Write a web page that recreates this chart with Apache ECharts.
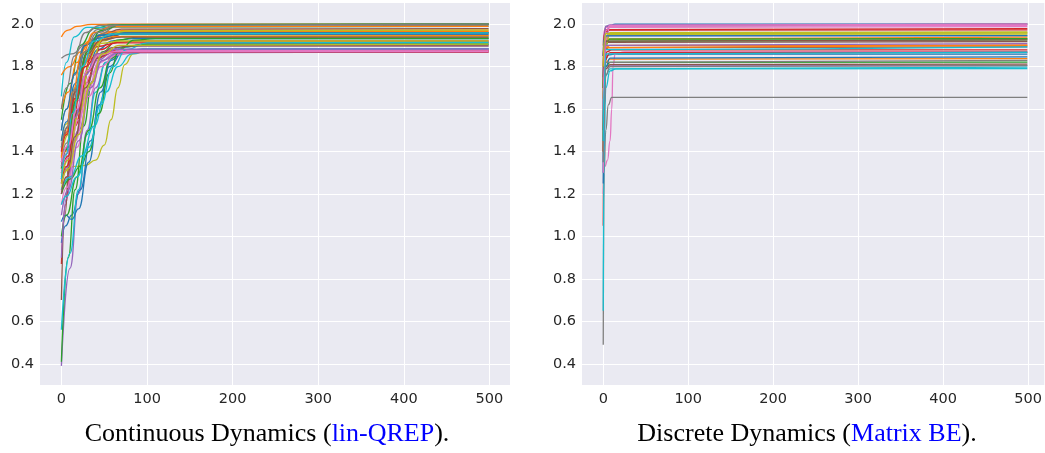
<!DOCTYPE html>
<html>
<head>
<meta charset="utf-8">
<script src="https://cdn.jsdelivr.net/npm/echarts@6/dist/echarts.min.js"></script>
<style>
  html, body { margin: 0; padding: 0; background: #fff; }
  #main { width: 1045px; height: 453px; }
</style>
</head>
<body>
<div id="main"></div>
<script>
// tick labels
var xTicks = [0, 100, 200, 300, 400, 500];
var yTicks = [0.4, 0.6, 0.8, 1.0, 1.2, 1.4, 1.6, 1.8, 2.0];

// left panel: continuous dynamics (lin-QREP), one run per line, [step, value]
var contRuns = [
  [[0,1.35],[8,1.42],[18,1.58],[30,1.78],[42,1.88],[60,1.922],[85,1.932],[499,1.932]],
  [[0,1.94],[8,1.972],[18,1.99],[35,1.999],[60,2.0],[499,2.0]],
  [[0,1.55],[10,1.72],[22,1.9],[38,1.98],[60,1.998],[499,2.0]],
  [[0,0.87],[5,1.15],[12,1.45],[22,1.7],[35,1.84],[55,1.875],[80,1.879],[499,1.879]],
  [[0,0.39],[10,0.85],[20,1.2],[30,1.5],[40,1.7],[52,1.82],[70,1.87],[95,1.876],[499,1.876]],
  [[0,0.7],[4,1.1],[10,1.42],[20,1.72],[32,1.88],[50,1.94],[75,1.953],[499,1.953]],
  [[0,1.45],[8,1.5],[20,1.64],[32,1.78],[45,1.85],[65,1.872],[499,1.874]],
  [[0,1.84],[12,1.86],[30,1.91],[50,1.948],[75,1.96],[499,1.962]],
  [[0,1.22],[6,1.31],[15,1.33],[28,1.335],[40,1.36],[50,1.43],[58,1.55],[66,1.7],[74,1.81],[84,1.86],[100,1.874],[499,1.876]],
  [[0,1.66],[6,1.82],[15,1.94],[30,1.985],[499,1.99]],

  [[0,0.97],[5,1.05],[12,1.1],[22,1.22],[34,1.45],[46,1.68],[58,1.83],[75,1.895],[100,1.906],[499,1.906]],
  [[0,1.76],[10,1.8],[22,1.87],[36,1.93],[55,1.965],[80,1.972],[499,1.972]],
  [[0,0.41],[8,0.9],[16,1.22],[26,1.52],[36,1.73],[48,1.87],[65,1.925],[90,1.939],[499,1.939]],
  [[0,1.3],[8,1.38],[20,1.58],[32,1.78],[45,1.88],[65,1.915],[90,1.921],[499,1.921]],
  [[0,1.25],[8,1.33],[20,1.5],[34,1.72],[48,1.85],[68,1.89],[95,1.898],[499,1.898]],
  [[0,1.42],[8,1.52],[18,1.7],[30,1.86],[46,1.95],[70,1.977],[499,1.979]],
  [[0,1.2],[6,1.28],[16,1.45],[30,1.68],[44,1.82],[62,1.862],[85,1.87],[499,1.87]],
  [[0,1.5],[6,1.6],[15,1.76],[27,1.9],[42,1.975],[65,1.998],[499,2.0]],
  [[0,1.38],[8,1.48],[18,1.66],[30,1.83],[46,1.92],[70,1.943],[499,1.946]],
  [[0,0.56],[10,0.92],[20,1.22],[30,1.48],[40,1.68],[52,1.82],[70,1.89],[95,1.906],[499,1.906]],

  [[0,1.07],[5,1.1],[12,1.08],[20,1.13],[32,1.35],[44,1.62],[56,1.8],[72,1.87],[95,1.884],[499,1.884]],
  [[0,1.6],[8,1.68],[18,1.82],[32,1.92],[50,1.958],[75,1.965],[499,1.965]],
  [[0,1.0],[6,1.1],[18,1.28],[32,1.5],[45,1.7],[58,1.84],[75,1.895],[100,1.906],[499,1.906]],
  [[0,1.33],[6,1.42],[16,1.62],[28,1.82],[42,1.895],[65,1.912],[499,1.914]],
  [[0,0.9],[6,1.18],[15,1.45],[28,1.7],[42,1.83],[60,1.868],[85,1.874],[499,1.874]],
  [[0,1.27],[8,1.37],[20,1.6],[34,1.82],[50,1.93],[75,1.958],[499,1.96]],
  [[0,1.15],[6,1.23],[18,1.42],[32,1.66],[46,1.8],[64,1.855],[90,1.868],[499,1.868]],
  [[0,1.35],[6,1.44],[16,1.63],[28,1.83],[44,1.95],[65,1.99],[499,1.995]],
  [[0,1.45],[6,1.53],[16,1.7],[30,1.86],[46,1.91],[70,1.921],[499,1.921]],
  [[0,1.22],[10,1.28],[24,1.38],[38,1.52],[52,1.68],[66,1.8],[82,1.86],[105,1.882],[499,1.884]],

  [[0,1.5],[6,1.6],[16,1.77],[28,1.9],[45,1.948],[70,1.959],[499,1.959]],
  [[0,1.32],[5,1.4],[14,1.6],[25,1.8],[38,1.91],[58,1.942],[499,1.946]],
  [[0,1.2],[10,1.27],[22,1.33],[32,1.4],[44,1.58],[56,1.77],[68,1.88],[85,1.925],[110,1.932],[499,1.932]],
  [[0,1.25],[6,1.33],[16,1.52],[28,1.72],[42,1.84],[60,1.87],[499,1.874]],
  [[0,1.1],[8,1.22],[20,1.45],[34,1.7],[48,1.83],[66,1.865],[499,1.87]],
  [[0,1.4],[6,1.49],[16,1.68],[30,1.86],[46,1.925],[70,1.939],[499,1.939]],
  [[0,1.3],[8,1.37],[20,1.55],[34,1.76],[48,1.86],[68,1.876],[499,1.878]],
  [[0,1.6],[6,1.7],[15,1.85],[28,1.96],[45,1.995],[499,2.0]],
  [[0,1.28],[8,1.36],[20,1.58],[34,1.82],[50,1.94],[75,1.968],[499,1.972]],
  [[0,1.15],[6,1.19],[18,1.28],[32,1.42],[46,1.62],[60,1.8],[76,1.88],[100,1.912],[499,1.914]],

  [[0,1.45],[6,1.54],[16,1.72],[28,1.87],[44,1.935],[68,1.953],[499,1.953]],
  [[0,1.37],[5,1.48],[13,1.68],[24,1.86],[38,1.96],[60,1.988],[499,1.99]],
  [[0,1.32],[6,1.41],[17,1.64],[30,1.87],[46,1.97],[70,1.998],[499,2.0]],
  [[0,1.4],[6,1.48],[16,1.65],[28,1.8],[42,1.86],[60,1.87],[499,1.87]],
  [[0,1.33],[6,1.39],[16,1.56],[28,1.76],[42,1.86],[62,1.882],[499,1.884]],
  [[0,1.2],[6,1.28],[16,1.47],[28,1.7],[42,1.84],[60,1.89],[85,1.898],[499,1.898]],
  [[0,1.35],[8,1.43],[18,1.6],[30,1.78],[44,1.855],[62,1.871],[499,1.872]],
  [[0,1.42],[6,1.51],[15,1.69],[27,1.87],[42,1.96],[64,1.995],[499,2.0]],
  [[0,1.25],[8,1.32],[20,1.48],[34,1.72],[48,1.86],[68,1.9],[499,1.906]],
  [[0,1.27],[5,1.38],[13,1.58],[24,1.8],[38,1.92],[58,1.953],[499,1.959]]
];

// right panel: discrete dynamics (Matrix BE)
var discRuns = [
  [[0,1.5],[1,1.75],[2.5,1.83],[6,1.855],[12,1.859],[499,1.859]],
  [[0,1.7],[1,1.85],[3,1.89],[8,1.9],[499,1.901]],
  [[0,1.6],[1,1.8],[3,1.9],[7,1.93],[499,1.932]],
  [[0,1.05],[1,1.5],[2,1.8],[4,1.87],[10,1.879],[499,1.879]],
  [[0,1.8],[1,1.92],[3,1.94],[8,1.946],[499,1.946]],
  [[0,1.4],[1,1.75],[2.5,1.88],[6,1.89],[499,1.893]],
  [[0,1.2],[2,1.33],[5,1.36],[8,1.45],[10,1.6],[11.5,1.8],[14,1.86],[25,1.87],[499,1.87]],
  [[0,0.49],[1,1.3],[3,1.5],[6,1.62],[10,1.655],[499,1.655]],
  [[0,1.9],[1,1.95],[3,1.958],[499,1.959]],
  [[0,0.65],[1,1.4],[3,1.7],[8,1.78],[15,1.79],[499,1.791]],

  [[0,1.3],[1,1.7],[3,1.9],[7,1.99],[14,2.0],[499,2.0]],
  [[0,1.55],[1,1.75],[3,1.82],[8,1.836],[499,1.838]],
  [[0,1.45],[1,1.7],[3,1.8],[8,1.82],[499,1.821]],
  [[0,1.75],[1,1.9],[3,1.965],[8,1.972],[499,1.973]],
  [[0,1.6],[1,1.75],[3,1.79],[8,1.804],[499,1.805]],
  [[0,1.85],[1,1.9],[3,1.915],[499,1.918]],
  [[0,1.9],[1,1.97],[3,1.985],[499,1.989]],
  [[0,1.7],[1,1.95],[3,1.99],[499,2.001]],
  [[0,1.55],[1,1.85],[3,1.94],[8,1.952],[499,1.953]],
  [[0,1.35],[1,1.65],[3,1.76],[8,1.79],[499,1.798]],

  [[0,1.25],[1,1.6],[3,1.8],[8,1.84],[499,1.846]],
  [[0,1.8],[1,1.9],[3,1.93],[499,1.939]],
  [[0,1.65],[1,1.85],[3,1.92],[8,1.93],[499,1.932]],
  [[0,1.85],[1,1.95],[3,1.975],[499,1.979]],
  [[0,1.75],[1,1.93],[3,1.99],[8,1.997],[499,2.0]],
  [[0,1.5],[1,1.7],[3,1.79],[8,1.81],[499,1.812]],
  [[0,1.3],[1,1.6],[3,1.92],[8,1.99],[499,1.995]],
  [[0,1.6],[1,1.78],[3,1.82],[499,1.83]],
  [[0,1.4],[1,1.7],[3,1.9],[8,1.96],[499,1.964]],
  [[0,1.55],[1,1.78],[3,1.88],[499,1.893]],

  [[0,1.85],[1,1.93],[3,1.945],[499,1.946]],
  [[0,1.65],[1,1.85],[3,1.89],[499,1.901]],
  [[0,1.7],[1,1.88],[3,1.92],[499,1.926]],
  [[0,1.4],[1,1.7],[3,1.84],[8,1.866],[499,1.868]],
  [[0,1.55],[1,1.8],[3,1.9],[499,1.909]],
  [[0,1.7],[1,1.88],[3,1.92],[499,1.926]],
  [[0,1.6],[1,1.8],[3,1.97],[8,1.995],[499,2.0]],
  [[0,1.35],[1,1.6],[3,1.76],[8,1.8],[499,1.805]],
  [[0,1.8],[1,1.92],[3,1.955],[499,1.959]],
  [[0,1.45],[1,1.7],[3,1.86],[499,1.868]]
];

var chart = echarts.init(document.getElementById('main'));

function xAxisFor(idx, max) {
  return {
    type: 'value', gridIndex: idx, min: -25, max: max,
    axisLine: { show: false },
    axisTick: { show: false, customValues: xTicks },
    axisLabel: { customValues: xTicks, color: '#262626', fontSize: 14.5, fontFamily: 'DejaVu Sans', margin: 7 },
    splitLine: { show: true, lineStyle: { color: '#ffffff', width: 1 } }
  };
}
function yAxisFor(idx) {
  return {
    type: 'value', gridIndex: idx, min: 0.3, max: 2.1,
    axisLine: { show: false },
    axisTick: { show: false, customValues: yTicks },
    axisLabel: {
      customValues: yTicks, color: '#262626', fontSize: 14.5, fontFamily: 'DejaVu Sans', margin: 6,
      formatter: function (v) { return v.toFixed(1); }
    },
    splitLine: { show: true, lineStyle: { color: '#ffffff', width: 1 } }
  };
}

var series = [];
contRuns.forEach(function (run) {
  series.push({ type: 'line', xAxisIndex: 0, yAxisIndex: 0, data: run, showSymbol: false,
    smooth: 0.5, smoothMonotone: 'x', lineStyle: { width: 1.3 }, silent: true });
});
discRuns.forEach(function (run) {
  series.push({ type: 'line', xAxisIndex: 1, yAxisIndex: 1, data: run, showSymbol: false,
    smooth: 0.5, smoothMonotone: 'x', lineStyle: { width: 1.3 }, silent: true });
});

var captionRich = {
  k: { fontFamily: 'Liberation Serif', fontSize: 26, fontWeight: 'normal', color: '#000000' },
  b: { fontFamily: 'Liberation Serif', fontSize: 26, fontWeight: 'normal', color: '#0000ff' }
};

var option = {
  animation: false,
  color: ['#1f77b4', '#ff7f0e', '#2ca02c', '#d62728', '#9467bd', '#8c564b', '#e377c2', '#7f7f7f', '#bcbd22', '#17becf'],
  title: [
    { text: '{k|Continuous Dynamics (}{b|lin-QREP}{k|).}', left: 262, top: 416, textAlign: 'center',
      textStyle: { fontWeight: 'normal', rich: captionRich } },
    { text: '{k|Discrete Dynamics (}{b|Matrix BE}{k|).}', left: 802, top: 416, textAlign: 'center',
      textStyle: { fontWeight: 'normal', rich: captionRich } }
  ],
  grid: [
    { left: 40, top: 3, width: 470, height: 382, show: true, backgroundColor: '#eaeaf2', borderWidth: 0 },
    { left: 582, top: 3, width: 463, height: 382, show: true, backgroundColor: '#eaeaf2', borderWidth: 0 }
  ],
  xAxis: [xAxisFor(0, 524), xAxisFor(1, 519)],
  yAxis: [yAxisFor(0), yAxisFor(1)],
  series: series
};

chart.setOption(option);
</script>
</body>
</html>
